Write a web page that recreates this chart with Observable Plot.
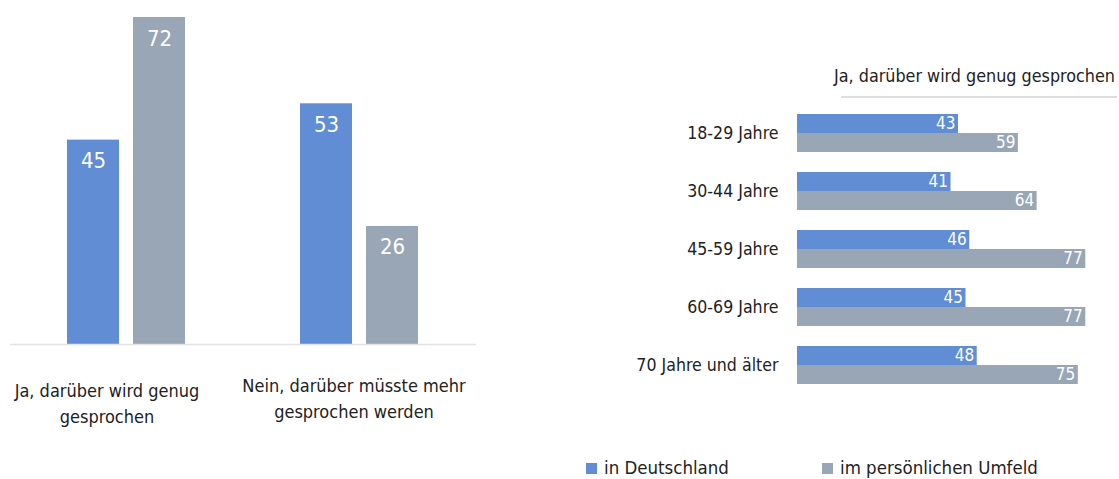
<!DOCTYPE html>
<html><head><meta charset="utf-8">
<script src="https://cdn.jsdelivr.net/npm/d3@7"></script>
<script src="https://cdn.jsdelivr.net/npm/@observablehq/plot@0.6"></script>
<style>
body{margin:0;background:#fff;}
#wrap{position:relative;width:1119px;height:479px;overflow:hidden;font-family:"DejaVu Sans Condensed","Liberation Sans Narrow",sans-serif;color:#222}
#left{position:absolute;left:0;top:0}
#right{position:absolute;left:600px;top:0}
#title{position:absolute;right:4px;top:64px;font-size:17.8px;white-space:nowrap;line-height:24px}
#rule{position:absolute;left:841px;top:96px;width:276px;height:2px;background:#dedede}
.leg{position:absolute;top:457px;font-size:18.5px;line-height:22px;white-space:nowrap;display:flex;align-items:center}
.sw{display:inline-block;width:11px;height:11px;margin-right:7px}
</style></head><body><div id="wrap"><div id="left"></div><div id="right"></div><div id="title"></div><div id="rule"></div></div>
<script>
const FONT = '"DejaVu Sans Condensed","Liberation Sans Narrow",sans-serif';
const series = ["in Deutschland", "im persönlichen Umfeld"];
const colors = ["#608dd3", "#98a6b5"];
const answers = ["Ja, darüber wird genug gesprochen", "Nein, darüber müsste mehr gesprochen werden"];
const answerLines = ["Ja, darüber wird genug\ngesprochen", "Nein, darüber müsste mehr\ngesprochen werden"];
const answerDeutschland = [45, 53];
const answerUmfeld = [72, 26];
const ageGroups = ["18-29 Jahre", "30-44 Jahre", "45-59 Jahre", "60-69 Jahre", "70 Jahre und älter"];
const ageDeutschland = [43, 41, 46, 45, 48];
const ageUmfeld = [59, 64, 77, 77, 75];
const rightTitle = "Ja, darüber wird genug gesprochen";

const leftData = answers.flatMap((a, i) => [
  {answer: a, series: series[0], value: answerDeutschland[i]},
  {answer: a, series: series[1], value: answerUmfeld[i]}
]);
const rightData = ageGroups.flatMap((a, i) => [
  {age: a, series: series[0], value: ageDeutschland[i]},
  {age: a, series: series[1], value: ageUmfeld[i]}
]);

const labelDx = [-20, -6];
const labelDy = [35, 30];
const labelMarks = answers.map((a, i) => Plot.text([a], {
  fx: d => d, text: () => answerLines[i], frameAnchor: "bottom", lineAnchor: "top",
  dx: labelDx[i], dy: labelDy[i], fontSize: 18, lineHeight: 1.4, fill: "#222"
}));

const left = Plot.plot({
  width: 486, height: 440,
  marginLeft: 10, marginRight: 10, marginTop: 17, marginBottom: 96,
  style: {fontFamily: FONT, color: "#222", background: "transparent", overflow: "visible"},
  fx: {domain: answers, paddingInner: 0, paddingOuter: 0, axis: null, label: null},
  x: {domain: series, paddingInner: 0.2121, paddingOuter: 0.8636, axis: null},
  y: {domain: [0, 72], axis: null},
  color: {domain: series, range: colors},
  marks: [
    Plot.barY(leftData, {fx: "answer", x: "series", y: "value", fill: "series"}),
    Plot.text(leftData, {fx: "answer", x: "series", y: "value", text: d => String(d.value), dy: 21, fill: "white", fontSize: 22}),
    Plot.ruleY([0], {stroke: "#e3e3e3", strokeWidth: 1.5}),
    ...labelMarks
  ]
});
document.getElementById("left").appendChild(left);

const right = Plot.plot({
  width: 519, height: 400,
  marginLeft: 197, marginRight: 0, marginTop: 113, marginBottom: 14,
  style: {fontFamily: FONT, color: "#222", background: "transparent", fontSize: "17.6px", overflow: "visible"},
  fy: {domain: ageGroups, paddingInner: 0.34, paddingOuter: 0, axis: "left", tickSize: 0, tickPadding: 19, label: null},
  y: {domain: series, padding: 0, axis: null},
  x: {domain: [0, 86], axis: null},
  color: {domain: series, range: colors},
  marks: [
    Plot.barX(rightData, {fy: "age", y: "series", x: "value", fill: "series"}),
    Plot.text(rightData, {fy: "age", y: "series", x: "value", text: d => String(d.value), textAnchor: "end", dx: -3, fill: "white", fontSize: 17})
  ]
});
document.getElementById("right").appendChild(right);

document.getElementById("title").textContent = rightTitle;

const wrap = document.getElementById("wrap");
const legendLeft = [586, 822];
series.forEach((s, i) => {
  const d = document.createElement("div");
  d.className = "leg";
  d.style.left = legendLeft[i] + "px";
  const sw = document.createElement("span");
  sw.className = "sw";
  sw.style.background = colors[i];
  d.appendChild(sw);
  d.appendChild(document.createTextNode(s));
  wrap.appendChild(d);
});
</script></body></html>
